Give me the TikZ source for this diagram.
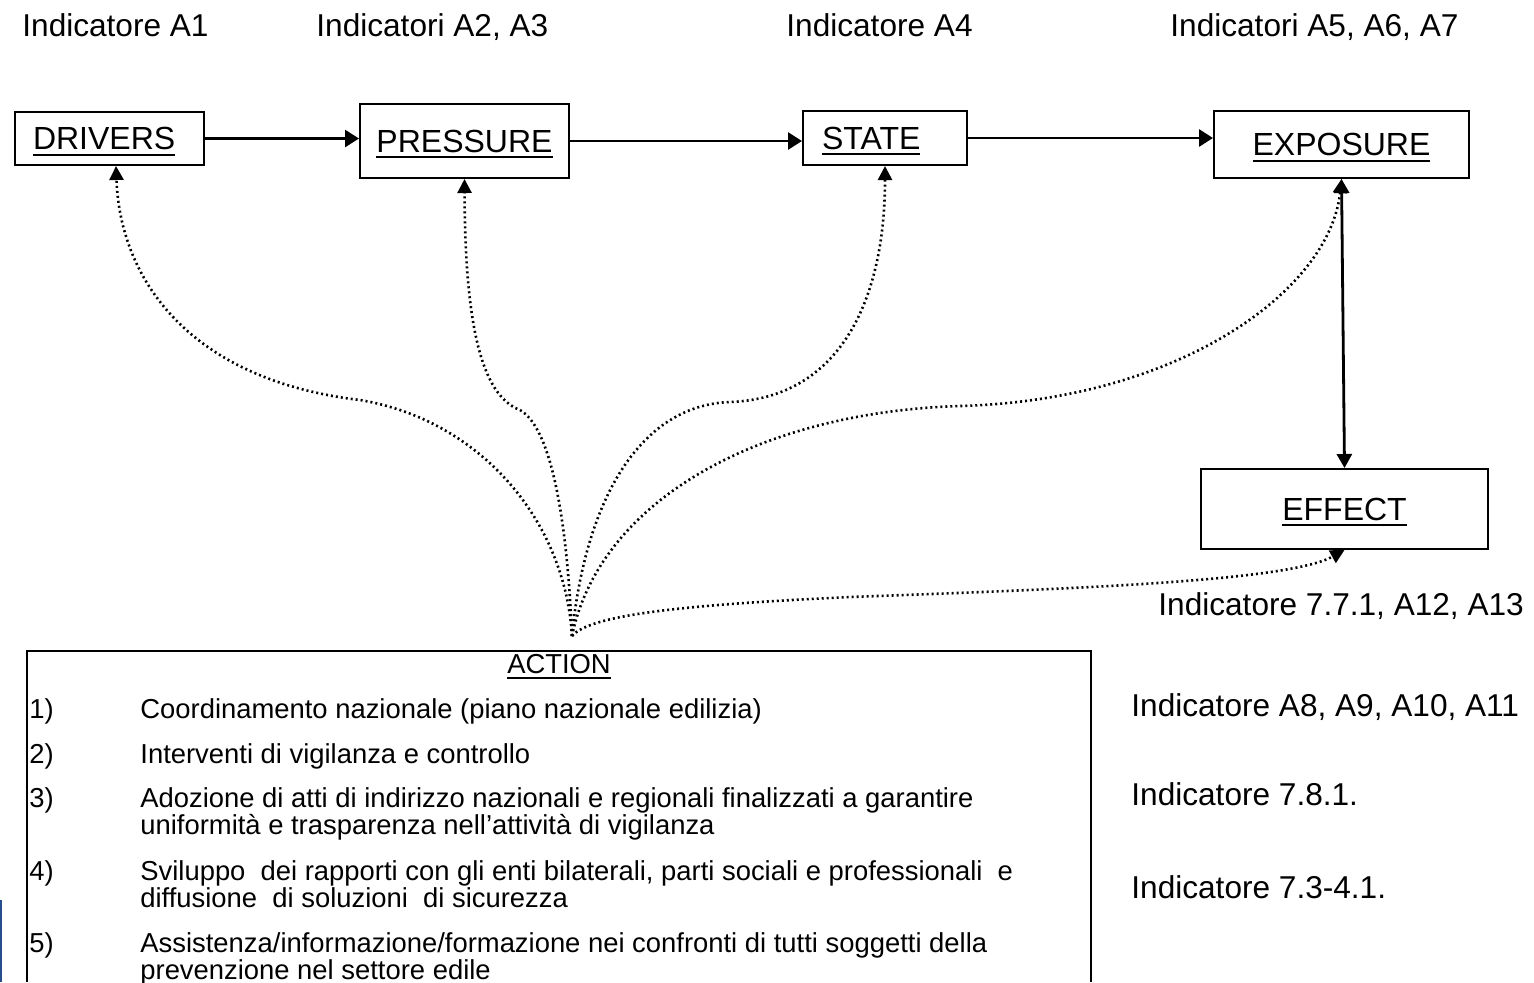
\documentclass[tikz,border=0pt]{standalone}
\usepackage{fontspec}
\setmainfont{Liberation Sans}
\usetikzlibrary{arrows.meta}

\definecolor{edgeblue}{RGB}{38,78,140}
\newsavebox{\ulbox}
\newcommand{\ulabel}[1]{\sbox{\ulbox}{#1}\rlap{\smash{\rule[-3.2pt]{\wd\ulbox}{1.2pt}}}\usebox{\ulbox}}

\begin{document}
\begin{tikzpicture}[x=0.5pt, y=-0.5pt,
	box/.style={draw, line width=1pt, inner sep=0pt, font=\fontsize{16}{19}\selectfont},
	lbl/.style={anchor=base west, inner sep=0pt, font=\fontsize{15.8}{19}\selectfont},
	itm/.style={anchor=base west, inner sep=0pt, align=left, font=\fontsize{13.7}{13.5}\selectfont},
	flow/.style={-{Triangle[length=7pt, width=8.5pt]}, line width=1.35pt},
	flowtwo/.style={{Triangle[length=7pt, width=7.5pt]}-{Triangle[length=7pt, width=7.5pt]}, line width=1.4pt},
	actline/.style={-{Triangle[length=7pt, width=7pt]}, line width=1.3pt, dash pattern=on 1pt off 1.5pt}]
	\useasboundingbox (0,0) rectangle (1534,982);

	% Indicators on top
	\node[lbl] (ia1) at (22,36) {Indicatore A1};
	\node[lbl] (ia23) at (316,36) {Indicatori A2, A3};
	\node[lbl] (ia4) at (786,36) {Indicatore A4};
	\node[lbl] (ia567) at (1170,36) {Indicatori A5, A6, A7};

	% DPSEEA chain
	\node[box, minimum width=94.5pt, minimum height=26.5pt, text width=76.5pt, align=left] (drv) at (109.5,138.5) {\raisebox{-0.5pt}{\ulabel{DRIVERS}}};
	\node[box, minimum width=104.5pt, minimum height=37pt] (prs) at (464.5,141) {\ulabel{PRESSURE}};
	\node[box, minimum width=82pt, minimum height=27pt, text width=63pt, align=left] (stt) at (885,138) {\raisebox{-2pt}{\ulabel{STATE}}};
	\node[box, minimum width=127.5pt, minimum height=33.5pt] (exp) at (1341.5,144.5) {\ulabel{EXPOSURE}};
	\node[box, minimum width=143.5pt, minimum height=40pt] (eff) at (1344.5,509) {\ulabel{EFFECT}};

	\draw[flow] (drv.east) -- (drv.east -| prs.west);
	\draw[flow] (prs.east) -- (prs.east -| stt.west);
	\draw[flow] (stt.east) -- (stt.east -| exp.west);
	\draw[flowtwo] (exp.south) -- (eff.north);

	% Action feedback
	\coordinate (fan) at (572,636);
	\draw[actline] (fan) .. controls (565,520) and (480,420) .. (360,400) .. controls (190,380) and (120,280) .. ([xshift=3.25pt]drv.south);
	\draw[actline] (fan) .. controls (568,540) and (555,430) .. (520,410) .. controls (480,395) and (465,320) .. (prs.south);
	\draw[actline] (fan) .. controls (585,500) and (640,405) .. (730,402) .. controls (840,398) and (885,300) .. (stt.south);
	\draw[actline] (fan) .. controls (600,500) and (760,412) .. (960,406) .. controls (1180,400) and (1330,290) .. (exp.south);
	\draw[actline] (fan) .. controls (590,615) and (680,605) .. (850,597) .. controls (1100,588) and (1290,580) .. (eff.south);

	% Right indicators
	\node[lbl] (ieff) at (1158,615) {Indicatore 7.7.1, A12, A13};
	\node[lbl] (ia811) at (1131,716) {Indicatore A8, A9, A10, A11};
	\node[lbl] (i781) at (1131,805) {Indicatore 7.8.1.};
	\node[lbl] (i7341) at (1131,898) {Indicatore 7.3-4.1.};

	% Action box
	\draw[line width=0.8pt] (27,982) -- (27,651) -- (1091,651) -- (1091,982);
	\node[itm, anchor=base] (act) at (559,673) {\ulabel{ACTION}};
	\node[itm] (n1) at (29,718) {1)};
	\node[itm] (t1) at (140,718) {Coordinamento nazionale (piano nazionale edilizia)};
	\node[itm] (n2) at (29,763) {2)};
	\node[itm] (t2) at (140,763) {Interventi di vigilanza e controllo};
	\node[itm] (n3) at (29,807) {3)};
	\node[itm] (t3) at (140,834) {Adozione di atti di indirizzo nazionali e regionali finalizzati a garantire\\uniformità e trasparenza nell’attività di vigilanza};
	\node[itm] (n4) at (29,880) {4)};
	\node[itm] (t4) at (140,907) {Sviluppo\ \ dei rapporti con gli enti bilaterali, parti sociali e professionali\ \ e\\diffusione\ \ di soluzioni\ \ di sicurezza};
	\node[itm] (n5) at (29,952) {5)};
	\node[itm] (t5) at (140,979) {Assistenza/informazione/formazione nei confronti di tutti soggetti della\\prevenzione nel settore edile};

	\draw[line width=1pt, edgeblue] (1,900) -- (1,982);
\end{tikzpicture}
\end{document}
